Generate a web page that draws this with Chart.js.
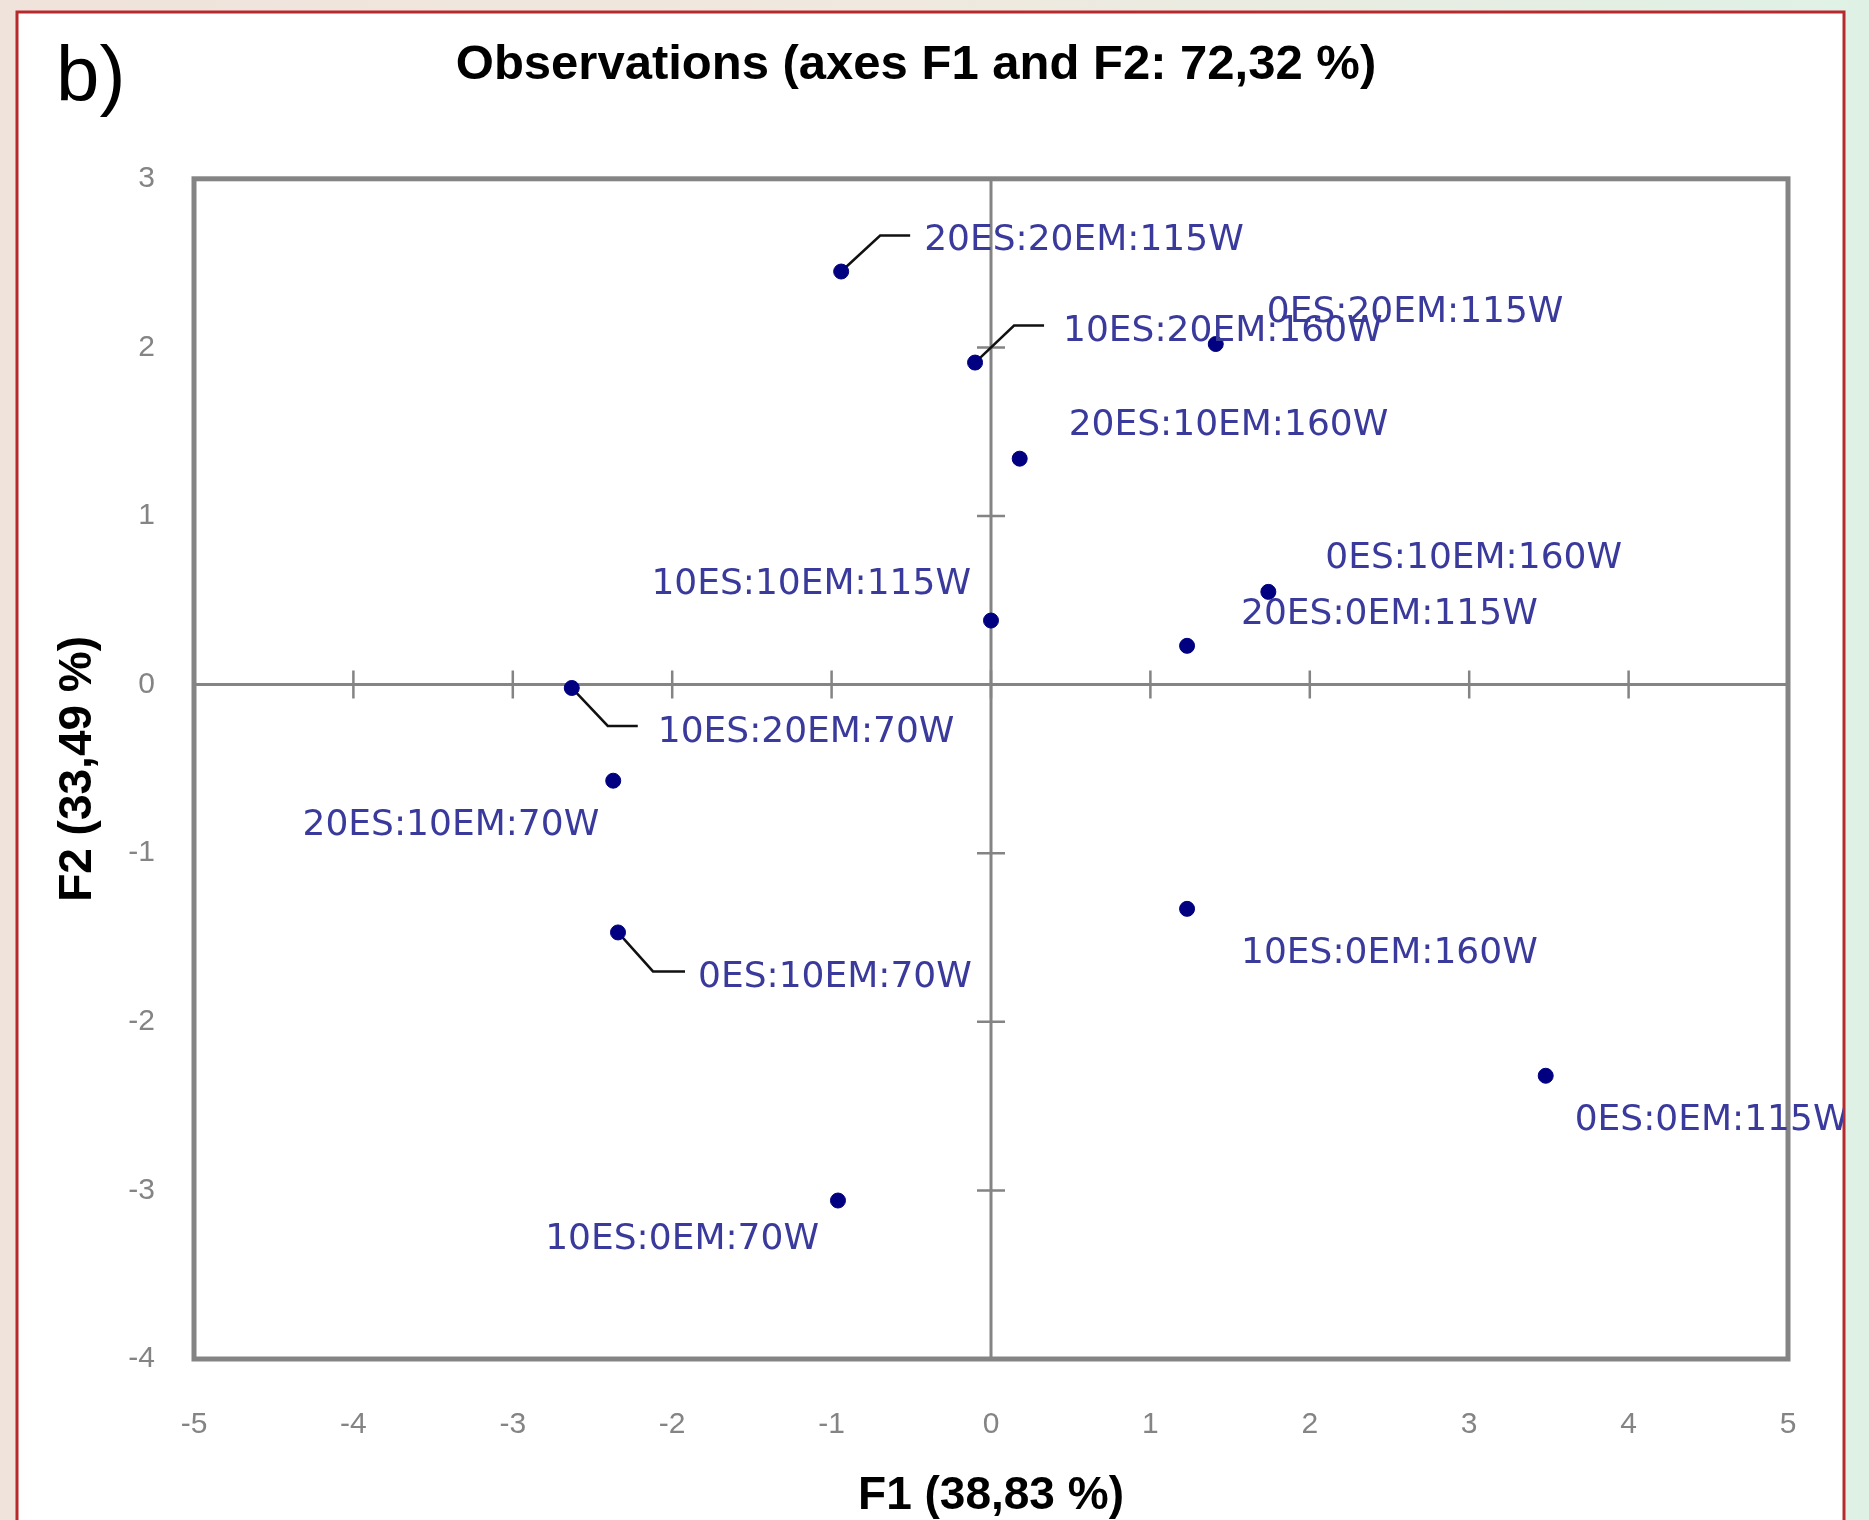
<!DOCTYPE html>
<html>
<head>
<meta charset="utf-8">
<title>Observations (axes F1 and F2)</title>
<script src="https://cdn.jsdelivr.net/npm/chart.js@4.4.1/dist/chart.umd.min.js"></script>
<style>
  html, body { margin: 0; padding: 0; background: #fff; }
  #wrap { width: 1869px; height: 1520px; position: relative; }
</style>
</head>
<body>
<div id="wrap"><canvas id="pcaChart"></canvas></div>
<script>
// observation names and their factor scores
const observations = [
    '20ES:20EM:115W', '10ES:20EM:160W', '0ES:20EM:115W', '20ES:10EM:160W',
    '10ES:10EM:115W', '0ES:10EM:160W', '20ES:0EM:115W', '10ES:20EM:70W',
    '20ES:10EM:70W', '0ES:10EM:70W', '10ES:0EM:160W', '0ES:0EM:115W',
    '10ES:0EM:70W'
];
const f1Scores = [-0.94, -0.10, 1.41, 0.18, 0.00, 1.74, 1.23, -2.63, -2.37, -2.34, 1.23, 3.48, -0.96];
const f2Scores = [2.45, 1.91, 2.02, 1.34, 0.38, 0.55, 0.23, -0.02, -0.57, -1.47, -1.33, -2.32, -3.06];

const xTickValues = [-5, -4, -3, -2, -1, 0, 1, 2, 3, 4, 5];
const yTickValues = [-4, -3, -2, -1, 0, 1, 2, 3];

const chartTitle = 'Observations (axes F1 and F2: 72,32 %)';
const xAxisTitle = 'F1 (38,83 %)';
const yAxisTitle = 'F2 (33,49 %)';
const panelTag = 'b)';

// label placement in pixels relative to each point (styling only)
const labelPlacement = [
    { dx: 83, dy: -31, align: 'left', leader: [39, -36, 69] },
    { dx: 88, dy: -31, align: 'left', leader: [39, -37, 69] },
    { dx: 51, dy: -31, align: 'left' },
    { dx: 49, dy: -33, align: 'left' },
    { dx: -20, dy: -36, align: 'right' },
    { dx: 57, dy: -33, align: 'left' },
    { dx: 54, dy: -31, align: 'left' },
    { dx: 86, dy: 45, align: 'left', leader: [36, 38, 66] },
    { dx: -14, dy: 45, align: 'right' },
    { dx: 80, dy: 45, align: 'left', leader: [35, 39, 67] },
    { dx: 54, dy: 45, align: 'left' },
    { dx: 29, dy: 45, align: 'left' },
    { dx: -19, dy: 39, align: 'right' }
];

const points = f1Scores.map((x, i) => ({ x: x, y: f2Scores[i] }));

const axisGray = '#848484';

const decorPlugin = {
    id: 'decor',
    beforeDraw(chart) {
        const ctx = chart.ctx;
        const w = chart.width, h = chart.height;
        ctx.save();
        const g = ctx.createLinearGradient(0, 0, w, 0);
        g.addColorStop(0, '#efe3dc');
        g.addColorStop(0.5, '#efe9df');
        g.addColorStop(1, '#dff1e5');
        ctx.fillStyle = g;
        ctx.fillRect(0, 0, w, h);
        ctx.fillStyle = '#ffffff';
        ctx.fillRect(17, 12, 1827, h);
        ctx.strokeStyle = '#b8292e';
        ctx.lineWidth = 3;
        ctx.strokeRect(17, 12, 1827, h + 10);
        ctx.fillStyle = '#000';
        ctx.font = '78px "Liberation Sans"';
        ctx.textBaseline = 'alphabetic';
        ctx.textAlign = 'left';
        ctx.fillText(panelTag, 56, 101);
        ctx.restore();
    },
    beforeDatasetsDraw(chart) {
        const ctx = chart.ctx;
        const a = chart.chartArea;
        const xs = chart.scales.x, ys = chart.scales.y;
        const x0 = xs.getPixelForValue(0), y0 = ys.getPixelForValue(0);
        ctx.save();
        ctx.strokeStyle = axisGray;
        // zero axes
        ctx.lineWidth = 3;
        ctx.beginPath();
        ctx.moveTo(a.left, y0); ctx.lineTo(a.right, y0);
        ctx.moveTo(x0, a.top); ctx.lineTo(x0, a.bottom);
        ctx.stroke();
        // tick marks crossing the zero axes
        ctx.lineWidth = 2.5;
        ctx.beginPath();
        xTickValues.slice(1, -1).forEach(v => {
            const px = xs.getPixelForValue(v);
            ctx.moveTo(px, y0 - 14); ctx.lineTo(px, y0 + 14);
        });
        yTickValues.slice(1, -1).forEach(v => {
            const py = ys.getPixelForValue(v);
            ctx.moveTo(x0 - 14, py); ctx.lineTo(x0 + 14, py);
        });
        ctx.stroke();
        // frame
        ctx.lineWidth = 5;
        ctx.strokeRect(a.left, a.top, a.right - a.left, a.bottom - a.top);
        // leader lines
        ctx.strokeStyle = '#111';
        ctx.lineWidth = 2.5;
        const meta = chart.getDatasetMeta(0);
        meta.data.forEach((el, i) => {
            const p = labelPlacement[i];
            if (!p.leader) return;
            ctx.beginPath();
            ctx.moveTo(el.x, el.y);
            ctx.lineTo(el.x + p.leader[0], el.y + p.leader[1]);
            ctx.lineTo(el.x + p.leader[2], el.y + p.leader[1]);
            ctx.stroke();
        });
        ctx.restore();
    },
    afterDatasetsDraw(chart) {
        const ctx = chart.ctx;
        const meta = chart.getDatasetMeta(0);
        ctx.save();
        ctx.beginPath();
        ctx.rect(17, 12, 1826, chart.height);
        ctx.clip();
        ctx.font = '36px "DejaVu Sans"';
        ctx.fillStyle = '#3a3a9c';
        ctx.textBaseline = 'middle';
        meta.data.forEach((el, i) => {
            const p = labelPlacement[i];
            ctx.textAlign = p.align;
            ctx.fillText(observations[i], el.x + p.dx, el.y + p.dy);
        });
        ctx.restore();
    }
};

const ctx = document.getElementById('pcaChart').getContext('2d');
const pcaChart = new Chart(ctx, {
    type: 'scatter',
    data: {
        datasets: [{
            label: 'Observations',
            data: points,
            backgroundColor: '#000080',
            borderColor: '#000080',
            pointRadius: 7.5,
            pointHoverRadius: 7.5
        }]
    },
    options: {
        responsive: true,
        maintainAspectRatio: false,
        animation: false,
        events: [],
        layout: { padding: { left: 44, right: 81, top: 20, bottom: 0 } },
        plugins: {
            legend: { display: false },
            tooltip: { enabled: false },
            title: {
                display: true,
                text: chartTitle,
                color: '#000',
                font: { family: 'Liberation Sans', size: 49, weight: 'bold' },
                padding: { top: 16, bottom: 84 }
            }
        },
        scales: {
            x: {
                type: 'linear',
                min: -5,
                max: 5,
                afterBuildTicks: s => { s.ticks = xTickValues.map(v => ({ value: v })); },
                afterFit: s => { s.height = 161; },
                grid: { display: false, drawTicks: false },
                border: { display: false },
                ticks: {
                    color: axisGray,
                    font: { family: 'Liberation Sans', size: 30 },
                    padding: 48,
                    maxRotation: 0
                },
                title: {
                    display: true,
                    text: xAxisTitle,
                    color: '#000',
                    font: { family: 'Liberation Sans', size: 46, weight: 'bold' },
                    padding: { top: 0, bottom: -4 }
                }
            },
            y: {
                type: 'linear',
                min: -4,
                max: 3,
                afterBuildTicks: s => { s.ticks = yTickValues.map(v => ({ value: v })); },
                afterFit: s => { s.width = 150; },
                grid: { display: false, drawTicks: false },
                border: { display: false },
                ticks: {
                    color: axisGray,
                    font: { family: 'Liberation Sans', size: 30 },
                    padding: 39
                },
                title: {
                    display: true,
                    text: yAxisTitle,
                    color: '#000',
                    font: { family: 'Liberation Sans', size: 46, weight: 'bold' },
                    padding: { top: 7, bottom: 0 }
                }
            }
        }
    },
    plugins: [decorPlugin]
});
</script>
</body>
</html>
